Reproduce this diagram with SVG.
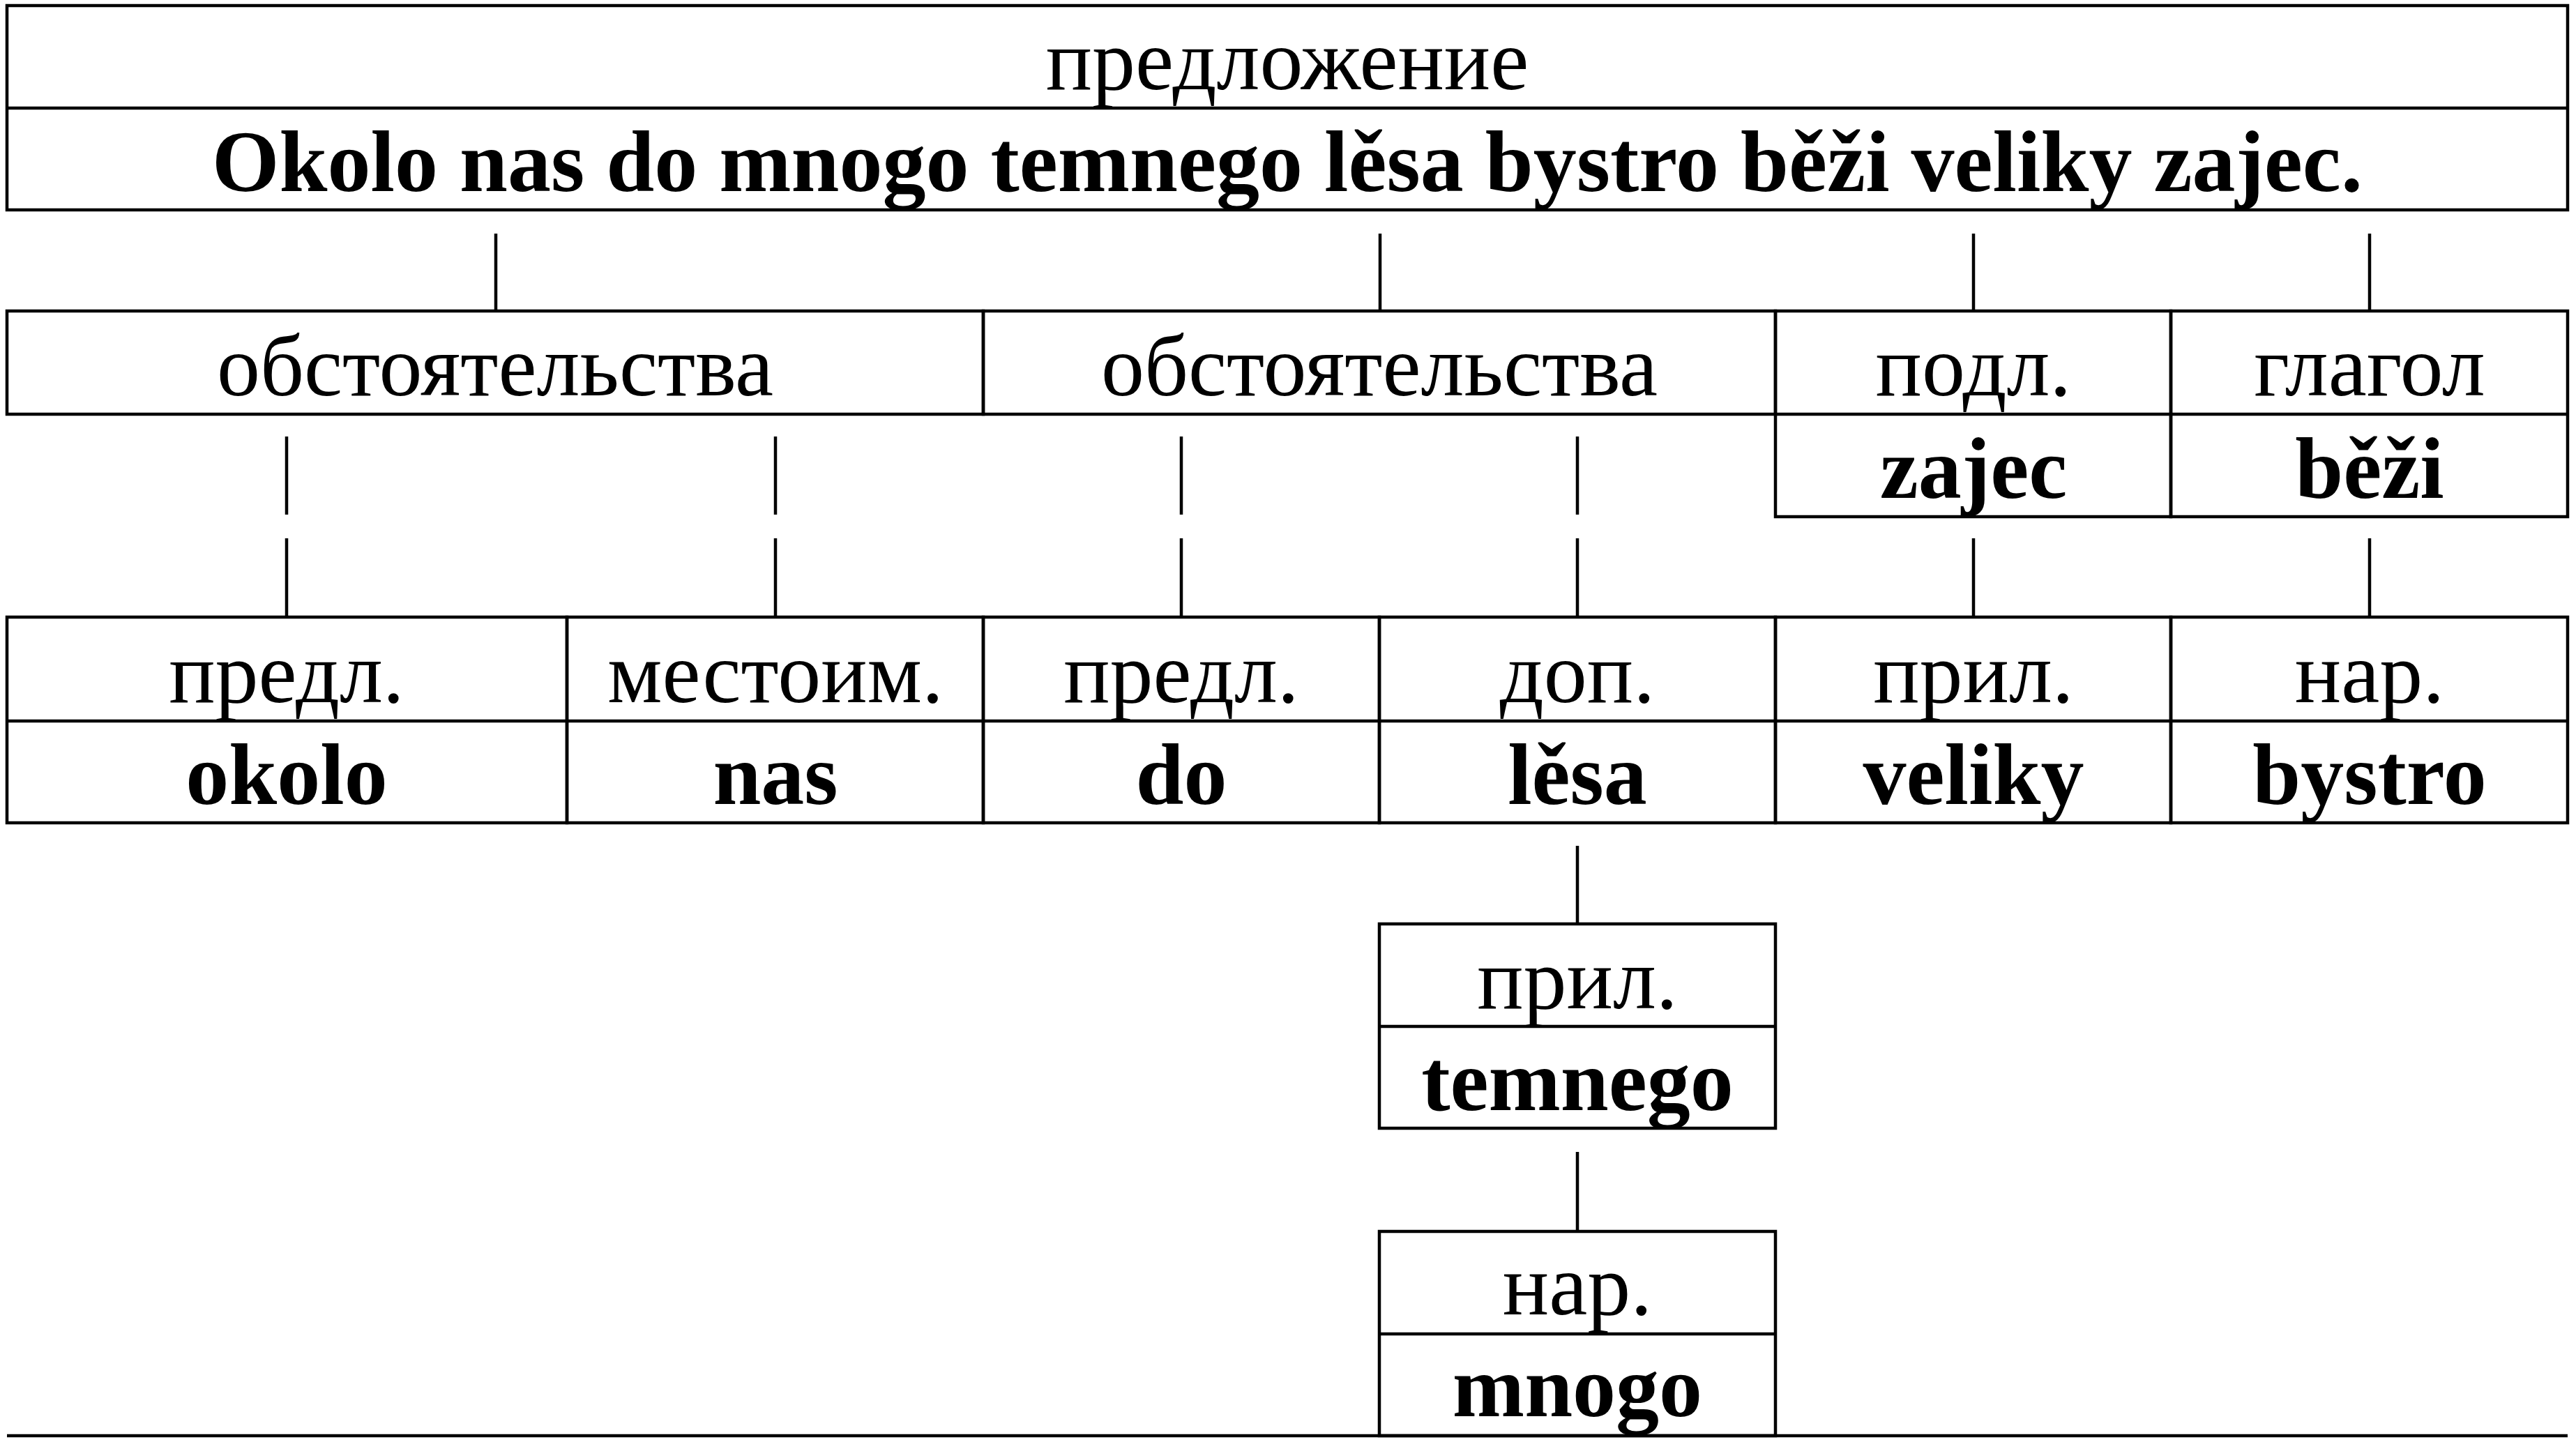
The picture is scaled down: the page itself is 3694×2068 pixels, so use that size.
<svg xmlns="http://www.w3.org/2000/svg" width="3694" height="2068" viewBox="0 0 3694 2068">
<style>
.b{fill:none;stroke:#000;stroke-width:4.5}
.c{stroke:#000;stroke-width:4.5}
text{font-family:"Liberation Serif","Times New Roman",serif;font-size:124px;text-anchor:middle;fill:#000}
.w{font-weight:bold}
</style>
<rect width="3694" height="2068" fill="#fff"/>
<g id="sentence">
<rect class="b" x="10" y="8" width="3672" height="293"/>
<line class="c" x1="10" y1="155" x2="3682" y2="155"/>
<text x="1846" y="128">предложение</text>
<text class="w" x="1846" y="274">Okolo nas do mnogo temnego lěsa bystro běži veliky zajec.</text>
</g>
<g id="obst1">
<rect class="b" x="10" y="446" width="1400" height="148"/>
<text x="710" y="567">обстоятельства</text>
</g>
<g id="obst2">
<rect class="b" x="1410" y="446" width="1136" height="148"/>
<text x="1978" y="567">обстоятельства</text>
</g>
<g id="podl">
<rect class="b" x="2546" y="446" width="567" height="295"/>
<line class="c" x1="2546" y1="594" x2="3113" y2="594"/>
<text x="2830" y="567">подл.</text>
<text class="w" x="2830" y="714">zajec</text>
</g>
<g id="glagol">
<rect class="b" x="3113" y="446" width="569" height="295"/>
<line class="c" x1="3113" y1="594" x2="3682" y2="594"/>
<text x="3398" y="567">глагол</text>
<text class="w" x="3398" y="714">běži</text>
</g>
<g id="okolo">
<rect class="b" x="10" y="885" width="803" height="295"/>
<line class="c" x1="10" y1="1034" x2="813" y2="1034"/>
<text x="411" y="1007">предл.</text>
<text class="w" x="411" y="1153">okolo</text>
</g>
<g id="nas">
<rect class="b" x="813" y="885" width="597" height="295"/>
<line class="c" x1="813" y1="1034" x2="1410" y2="1034"/>
<text x="1112" y="1007">местоим.</text>
<text class="w" x="1112" y="1153">nas</text>
</g>
<g id="do">
<rect class="b" x="1410" y="885" width="568" height="295"/>
<line class="c" x1="1410" y1="1034" x2="1978" y2="1034"/>
<text x="1694" y="1007">предл.</text>
<text class="w" x="1694" y="1153">do</text>
</g>
<g id="lesa">
<rect class="b" x="1978" y="885" width="568" height="295"/>
<line class="c" x1="1978" y1="1034" x2="2546" y2="1034"/>
<text x="2262" y="1007">доп.</text>
<text class="w" x="2262" y="1153">lěsa</text>
</g>
<g id="veliky">
<rect class="b" x="2546" y="885" width="567" height="295"/>
<line class="c" x1="2546" y1="1034" x2="3113" y2="1034"/>
<text x="2830" y="1007">прил.</text>
<text class="w" x="2830" y="1153">veliky</text>
</g>
<g id="bystro">
<rect class="b" x="3113" y="885" width="569" height="295"/>
<line class="c" x1="3113" y1="1034" x2="3682" y2="1034"/>
<text x="3398" y="1007">нар.</text>
<text class="w" x="3398" y="1153">bystro</text>
</g>
<g id="temnego">
<rect class="b" x="1978" y="1325" width="568" height="293"/>
<line class="c" x1="1978" y1="1472" x2="2546" y2="1472"/>
<text x="2262" y="1446">прил.</text>
<text class="w" x="2262" y="1592">temnego</text>
</g>
<g id="mnogo">
<rect class="b" x="1978" y="1766" width="568" height="293"/>
<line class="c" x1="1978" y1="1913" x2="2546" y2="1913"/>
<text x="2262" y="1885">нар.</text>
<text class="w" x="2262" y="2031">mnogo</text>
</g>
<g id="connectors">
<line class="c" x1="711" y1="335" x2="711" y2="446"/>
<line class="c" x1="1979" y1="335" x2="1979" y2="446"/>
<line class="c" x1="2830" y1="335" x2="2830" y2="446"/>
<line class="c" x1="3398" y1="335" x2="3398" y2="446"/>
<line class="c" x1="411" y1="626" x2="411" y2="738"/>
<line class="c" x1="411" y1="772" x2="411" y2="885"/>
<line class="c" x1="1112" y1="626" x2="1112" y2="738"/>
<line class="c" x1="1112" y1="772" x2="1112" y2="885"/>
<line class="c" x1="1694" y1="626" x2="1694" y2="738"/>
<line class="c" x1="1694" y1="772" x2="1694" y2="885"/>
<line class="c" x1="2262" y1="626" x2="2262" y2="738"/>
<line class="c" x1="2262" y1="772" x2="2262" y2="885"/>
<line class="c" x1="2830" y1="772" x2="2830" y2="885"/>
<line class="c" x1="3398" y1="772" x2="3398" y2="885"/>
<line class="c" x1="2262" y1="1213" x2="2262" y2="1325"/>
<line class="c" x1="2262" y1="1652" x2="2262" y2="1766"/>
<line class="c" x1="10" y1="2059" x2="3682" y2="2059"/>
</g>
</svg>
